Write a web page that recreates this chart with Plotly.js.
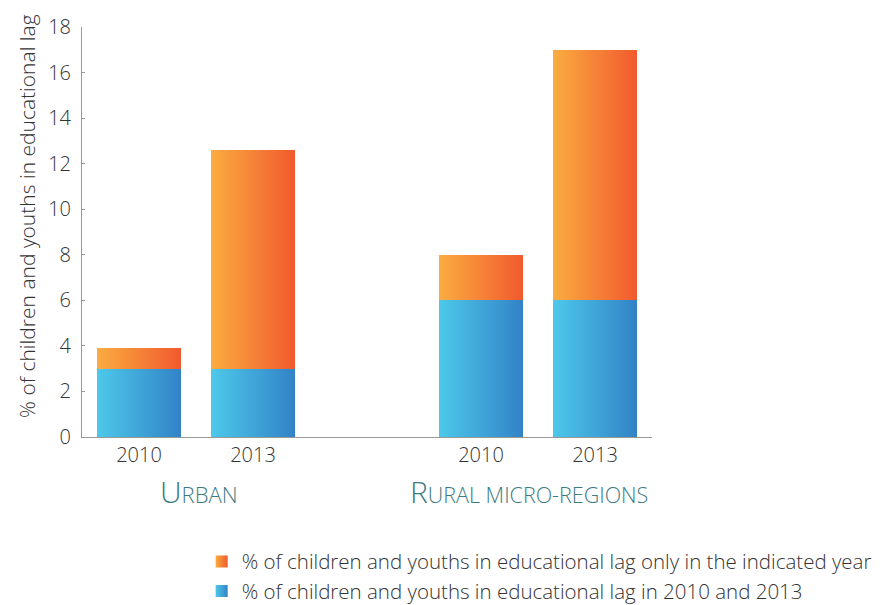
<!DOCTYPE html>
<html><head><meta charset="utf-8">
<script src="https://cdn.plot.ly/plotly-3.0.1.min.js"></script>
<style>body{margin:0;background:#fff}#chart{width:886px;height:605px}</style>
</head><body><div id="chart"></div>
<script>
const positions = [0, 1, 3, 4];
const yearLabels = ['2010', '2013', '2010', '2013'];
const groupNames = ['U<span style="font-size:22px">RBAN</span>', 'R<span style="font-size:21.5px">URAL MICRO-REGIONS</span>'];
const groupCenters = [0.53, 3.42];
const bothYears = [3, 3, 6, 6];
const onlyYear = [0.9, 9.6, 2, 11];
const seriesNames = ['% of children and youths in educational lag in 2010 and 2013',
                     '% of children and youths in educational lag only in the indicated year'];
const yTicks = [0, 2, 4, 6, 8, 10, 12, 14, 16, 18];
const yTitle = '% of children and youths in educational lag';

const font = '"Open Sans", Roboto, sans-serif';
const traces = [
  {type:'bar', x:positions, y:bothYears, name:seriesNames[0], width:0.73,
   marker:{color:'#3fa6d8', line:{width:0}}, hoverinfo:'none'},
  {type:'bar', x:positions, y:onlyYear, name:seriesNames[1], width:0.73,
   marker:{color:'#f4833a', line:{width:0}}, hoverinfo:'none'}
];
const annotations = groupNames.map((t,i)=>({x:groupCenters[i], xref:'x', y:-0.132, yref:'paper',
      yanchor:'middle', text:t, showarrow:false, font:{size:30, color:'#3d7b82', family:font, weight:300}}));
annotations.push({x:-0.0965, xref:'paper', y:0.539, yref:'paper', xanchor:'center', yanchor:'middle',
      text:yTitle, textangle:-90, showarrow:false, font:{size:21, color:'#333', family:font, weight:300}});
const layout = {
  width:886, height:605, barmode:'stack', showlegend:true,
  margin:{l:82, r:234, t:27, b:168, autoexpand:false},
  paper_bgcolor:'#fff', plot_bgcolor:'#fff',
  font:{family:font, color:'#333', weight:300},
  xaxis:{range:[-0.5,4.5], tickvals:positions, ticktext:yearLabels, showgrid:false, zeroline:false,
         showline:true, linecolor:'#999', linewidth:1, ticks:'', tickfont:{size:20, color:'#333', weight:300}},
  yaxis:{range:[0,18], tickvals:yTicks, showgrid:false, zeroline:false, showline:true,
         linecolor:'#999', linewidth:1, ticks:'inside', ticklen:3, tickcolor:'#999',
         tickfont:{size:20, color:'#333', weight:300}, ticklabelstandoff:6},
  legend:{x:186/886, xref:'paper', xanchor:'left', y:-0.255, yanchor:'top', traceorder:'reversed',
          font:{size:20.5, color:'#333', weight:300}, itemwidth:30, tracegroupgap:0, bgcolor:'rgba(0,0,0,0)'},
  annotations: annotations
};
Plotly.newPlot('chart', traces, layout, {staticPlot:true}).then(gd=>{
  const svg = gd.querySelector('.main-svg');
  const ns = 'http://www.w3.org/2000/svg';
  let defs = svg.querySelector('defs');
  const grads = [['gBlue','#4dc8ea','#3283c6'],['gOrange','#faac40','#f15a2e']];
  grads.forEach(([id,c1,c2])=>{
    const lg = document.createElementNS(ns,'linearGradient');
    lg.setAttribute('id',id); lg.setAttribute('x1','0'); lg.setAttribute('x2','1');
    lg.setAttribute('y1','0'); lg.setAttribute('y2','0');
    [[0,c1],[1,c2]].forEach(([o,c])=>{const s=document.createElementNS(ns,'stop');
      s.setAttribute('offset',o); s.setAttribute('stop-color',c); lg.appendChild(s);});
    defs.appendChild(lg);
  });
  gd.querySelectorAll('.barlayer .trace').forEach(tr=>{
    const idx = tr.__data__[0].trace.index;
    const g = idx===0 ? 'gBlue' : 'gOrange';
    tr.querySelectorAll('path').forEach(p=>p.style.fill='url(#'+g+')');
  });
  gd.querySelectorAll('.legend .traces').forEach(tr=>{
    const idx = tr.__data__[0].trace.index;
    const g = idx===0 ? 'gBlue' : 'gOrange';
    tr.querySelectorAll('.legendpoints path').forEach(p=>p.style.fill='url(#'+g+')');
  });
});
</script></body></html>
